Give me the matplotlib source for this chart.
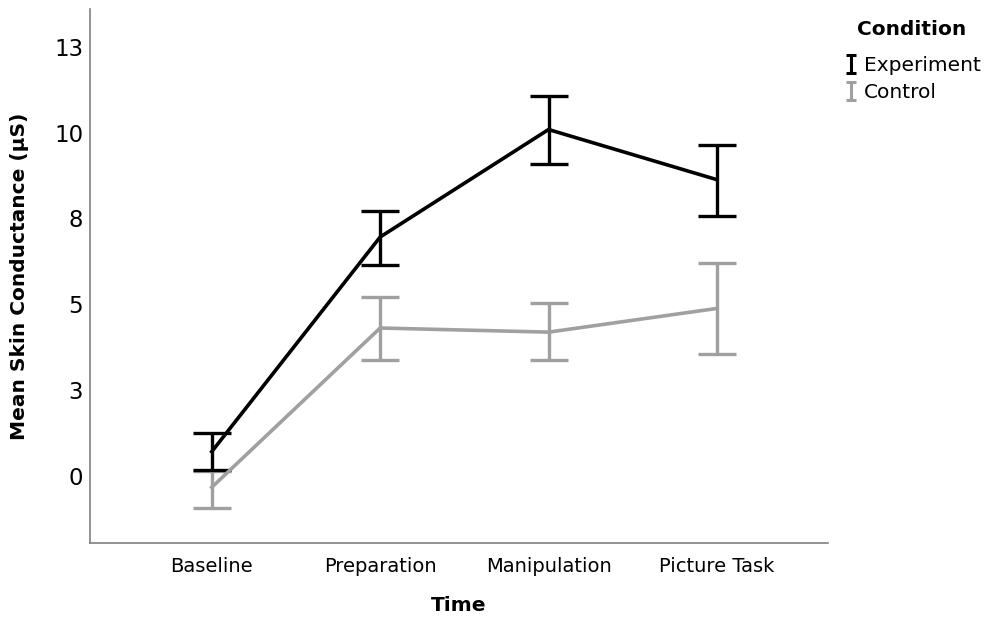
import matplotlib
matplotlib.use("Agg")
from matplotlib import pyplot as plt
from matplotlib.lines import Line2D
from matplotlib.path import Path

# data
phases = ["Baseline", "Preparation", "Manipulation", "Picture Task"]
exp_mean = [0.71, 6.96, 10.09, 8.63]
exp_low = [0.17, 6.15, 9.09, 7.57]
exp_high = [1.24, 7.73, 11.08, 9.64]
ctl_mean = [-0.33, 4.31, 4.19, 4.88]
ctl_low = [-0.94, 3.39, 3.37, 3.55]
ctl_high = [0.15, 5.21, 5.05, 6.20]
ytick_vals = [0, 2.5, 5, 7.5, 10, 12.5]
ytick_labels = ["0", "3", "5", "8", "10", "13"]

plt.rcParams['font.family'] = ['DejaVu Sans']

fig = plt.figure(figsize=(9.86, 6.21), dpi=100)
ax = fig.add_axes([0.0913, 0.1251, 0.7485, 0.8604])

x = range(len(phases))
grey = "#a0a0a0"


def draw(mean, low, high, color):
    err = [[m - l for m, l in zip(mean, low)], [h - m for m, h in zip(mean, high)]]
    ax.errorbar(x, mean, yerr=err, color=color, linewidth=2.6, elinewidth=2.4,
                capsize=14, capthick=2.4)


draw(ctl_mean, ctl_low, ctl_high, grey)
draw(exp_mean, exp_low, exp_high, "black")

ax.set_xlim(-0.723, 3.66)
ax.set_ylim(-1.96, 13.6)
ax.set_xticks(list(x))
ax.set_xticklabels(phases, fontsize=14)
ax.set_yticks(ytick_vals)
ax.set_yticklabels(ytick_labels, fontsize=16.5)
ax.tick_params(length=0)
ax.tick_params(axis="x", pad=10)
ax.tick_params(axis="y", pad=5)
for s in ["top", "right"]:
    ax.spines[s].set_visible(False)
for s in ["left", "bottom"]:
    ax.spines[s].set_color("#808080")
    ax.spines[s].set_linewidth(1.2)

ax.set_xlabel("Time", fontsize=14.5, fontweight="bold", labelpad=14)
ax.set_ylabel("Mean Skin Conductance (µS)", fontsize=14.5, fontweight="bold", labelpad=18)

# little error-bar glyph for the legend
ibar = Path([(-0.6, 1), (0.6, 1), (0, 1), (0, -1), (-0.6, -1), (0.6, -1)],
            [Path.MOVETO, Path.LINETO, Path.MOVETO, Path.LINETO, Path.MOVETO, Path.LINETO])
handles = [
    Line2D([], [], color="black", marker=ibar, linestyle="None", markersize=13, markeredgewidth=2.2),
    Line2D([], [], color=grey, marker=ibar, linestyle="None", markersize=13, markeredgewidth=2.2),
]
fig.text(0.925, 0.952, "Condition", fontsize=14.5, fontweight="bold", ha="center", va="center")
leg = fig.legend(handles, ["Experiment", "Control"],
                 loc="upper left", bbox_to_anchor=(0.846, 0.93), frameon=False,
                 fontsize=14.5, handlelength=0.5, handletextpad=0.4, labelspacing=0.4,
                 borderpad=0.1)

fig.savefig("out.png", dpi=100)
